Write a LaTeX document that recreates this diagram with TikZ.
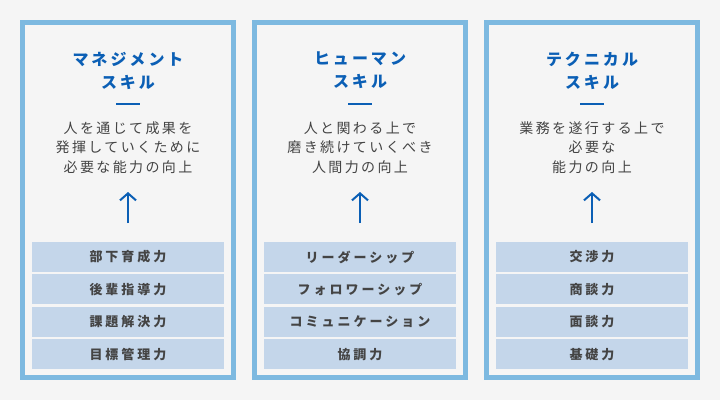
\documentclass[tikz,border=0pt]{standalone}
\usepackage{fontspec}
\usepackage{tikz}
\usetikzlibrary{positioning,arrows.meta}
\newfontfamily\ttlfont[LetterSpace=18.75]{Noto Sans CJK JP}
\newfontfamily\dscfont[LetterSpace=17]{Noto Sans CJK JP}
\newfontfamily\rowfont[LetterSpace=23]{Noto Sans CJK JP}
\definecolor{panelblue}{HTML}{7DB9E0}
\definecolor{pagebg}{HTML}{F5F5F5}
\definecolor{titleblue}{HTML}{0B5FB5}
\definecolor{textgray}{HTML}{444444}
\definecolor{rowfill}{HTML}{C4D6EA}

\begin{document}
\begin{tikzpicture}[x=1pt,y=1pt,node distance=2pt,
  panel/.style={draw=panelblue,line width=5pt,fill=pagebg,minimum width=211pt,minimum height=355pt,inner sep=0pt},
  title/.style={text=titleblue,align=center,font=\ttlfont\fontsize{16}{23}\selectfont\bfseries},
  desc/.style={text=textgray,align=center,font=\dscfont\fontsize{14}{19.5}\selectfont},
  skill/.style={fill=rowfill,minimum width=192pt,minimum height=30pt,inner sep=0pt,text=textgray,font=\rowfont\fontsize{13}{13}\selectfont\bfseries},
  rule/.style={draw=titleblue,line width=1.2pt},
  uparrow/.style={draw=titleblue,line width=2pt,-{Straight Barb[length=7pt,width=16pt,line width=2pt]}}]
  \fill[pagebg] (0,0) rectangle (720,-400);
  \useasboundingbox (0,0) rectangle (720,-400);
  % management
  \node(p1)[panel] at (128,-200){};
  \node(t1)[title] at (128,-70.5){マネジメント\\スキル};
  \draw[rule] (116,-104) -- (140,-104);
  \node(d1)[desc] at (128,-147.5){人を通じて成果を\\発揮していくために\\必要な能力の向上};
  \node(r11)[skill] at (128,-257){部下育成力};
  \node(r12)[skill,below=of r11]{後輩指導力};
  \node(r13)[skill,below=of r12]{課題解決力};
  \node(r14)[skill,below=of r13]{目標管理力};
  \coordinate(a1) at (128,-223);
  \coordinate(b1) at (128,-192);
  % human
  \node(p2)[panel] at (360,-200){};
  \node(t2)[title] at (360,-70.5){ヒューマン\\スキル};
  \draw[rule] (348,-104) -- (372,-104);
  \node(d2)[desc] at (360,-147.5){人と関わる上で\\磨き続けていくべき\\人間力の向上};
  \node(r21)[skill] at (360,-257){リーダーシップ};
  \node(r22)[skill,below=of r21]{フォロワーシップ};
  \node(r23)[skill,below=of r22]{コミュニケーション};
  \node(r24)[skill,below=of r23]{協調力};
  \coordinate(a2) at (360,-223);
  \coordinate(b2) at (360,-192);
  % technical
  \node(p3)[panel] at (592,-200){};
  \node(t3)[title] at (592,-70.5){テクニカル\\スキル};
  \draw[rule] (580,-104) -- (604,-104);
  \node(d3)[desc] at (592,-147.5){業務を遂行する上で\\必要な\\能力の向上};
  \node(r31)[skill] at (592,-257){交渉力};
  \node(r32)[skill,below=of r31]{商談力};
  \node(r33)[skill,below=of r32]{面談力};
  \node(r34)[skill,below=of r33]{基礎力};
  \coordinate(a3) at (592,-223);
  \coordinate(b3) at (592,-192);
  % arrows
  \draw[uparrow] (a1) -- (b1);
  \draw[uparrow] (a2) -- (b2);
  \draw[uparrow] (a3) -- (b3);
\end{tikzpicture}
\end{document}
